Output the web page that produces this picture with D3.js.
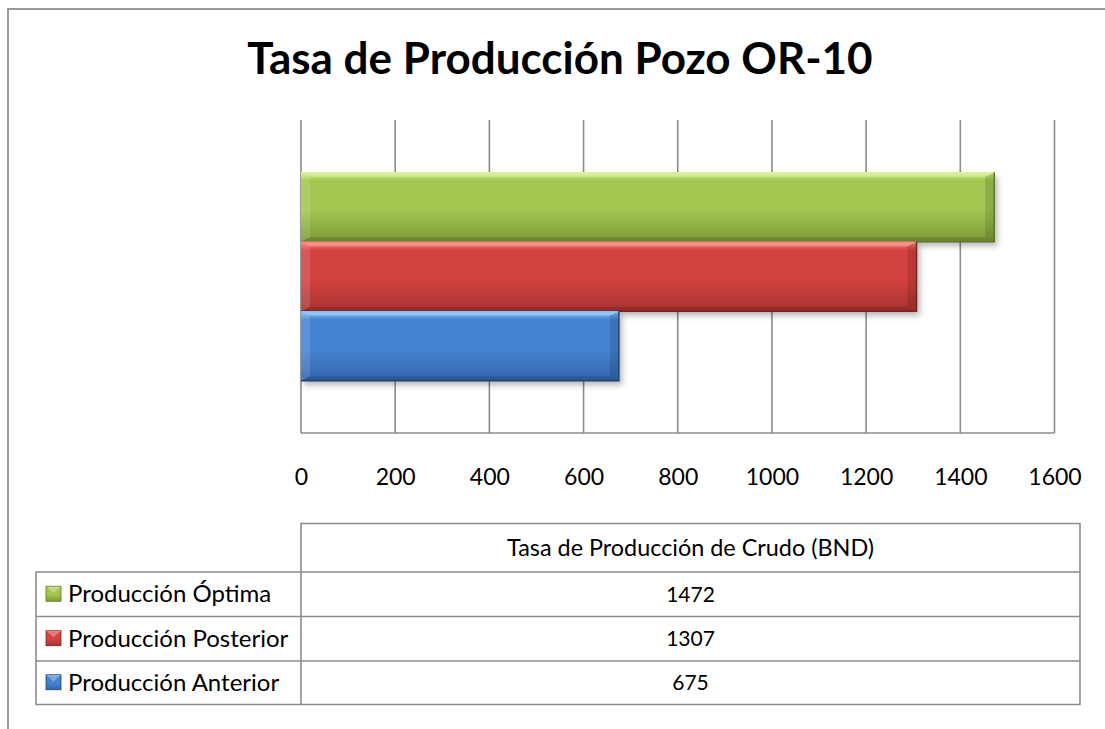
<!DOCTYPE html>
<html>
<head>
<meta charset="utf-8">
<script src="https://cdn.jsdelivr.net/npm/d3@7/dist/d3.min.js"></script>
<style>
  html, body { margin: 0; padding: 0; background: #fff; }
  svg { display: block; }
  text { font-family: Lato, "Open Sans", sans-serif; fill: #000; }
</style>
</head>
<body>
<svg id="chart" width="1105" height="729"></svg>
<script>
// Chart data
const title = "Tasa de Producción Pozo OR-10";
const category = "Tasa de Producción de Crudo (BND)";
const seriesNames = ["Producción Óptima", "Producción Posterior", "Producción Anterior"];
const seriesValues = [1472, 1307, 675];
const tickValues = [0, 200, 400, 600, 800, 1000, 1200, 1400, 1600];
const seriesColors = [
  { top: "#d9f28f", mid: "#a2c64f", bot: "#7c9a38", edge: "#5d7628" },
  { top: "#ff8481", mid: "#d2423f", bot: "#a83331", edge: "#7d2321" },
  { top: "#84c3ff", mid: "#4583d2", bot: "#3265ab", edge: "#1f4578" }
];

const svg = d3.select("#chart");
const defs = svg.append("defs");

// soft drop shadow under the bars
const shadow = defs.append("filter").attr("id", "shadow")
  .attr("x", "-5%").attr("y", "-10%").attr("width", "115%").attr("height", "140%");
shadow.append("feDropShadow").attr("dx", 3).attr("dy", 4).attr("stdDeviation", 3)
  .attr("flood-color", "#000").attr("flood-opacity", 0.3);

seriesColors.forEach((c, i) => {
  const g = defs.append("linearGradient").attr("id", "grad" + i)
    .attr("x1", 0).attr("y1", 0).attr("x2", 0).attr("y2", 1);
  g.append("stop").attr("offset", "0%").attr("stop-color", c.top);
  g.append("stop").attr("offset", "12%").attr("stop-color", c.mid);
  g.append("stop").attr("offset", "55%").attr("stop-color", c.mid);
  g.append("stop").attr("offset", "100%").attr("stop-color", c.bot);
});

// outer frame (extends past the right and bottom edges)
svg.append("rect").attr("x", 8).attr("y", 9).attr("width", 1200).attr("height", 800)
  .attr("fill", "none").attr("stroke", "#9a9a9a").attr("stroke-width", 2);

// title
svg.append("text").attr("x", 560).attr("y", 74).attr("text-anchor", "middle")
  .style("font-size", "44px").style("font-weight", "bold").text(title);

// plot area
const plot = { left: 301, right: 1054.5, top: 120, bottom: 433 };
const x = d3.scaleLinear().domain([0, 1600]).range([plot.left, plot.right]);
const y = d3.scaleBand().domain(seriesNames).range([plot.top, plot.bottom])
  .paddingInner(0).paddingOuter(0.75);

// vertical gridlines and axis
const grid = svg.append("g");
grid.selectAll("line.v").data(tickValues).join("line")
  .attr("x1", d => x(d)).attr("x2", d => x(d))
  .attr("y1", plot.top).attr("y2", plot.bottom)
  .attr("stroke", "#8c8c8c").attr("stroke-width", 1.6);
grid.append("line").attr("x1", plot.left).attr("x2", plot.right)
  .attr("y1", plot.bottom).attr("y2", plot.bottom)
  .attr("stroke", "#8c8c8c").attr("stroke-width", 1.6);

// tick labels via d3 axis
const axis = d3.axisBottom(x).tickValues(tickValues).tickSize(0).tickPadding(0).tickFormat(d3.format("d"));
const axisG = svg.append("g").attr("transform", `translate(0,${plot.bottom + 52})`).call(axis);
axisG.select(".domain").remove();
axisG.selectAll("text").attr("dy", 0).style("font-size", "23px")
  .style("font-family", "Lato, sans-serif").attr("fill", "#000");

// bevelled bars
const bars = svg.append("g");
seriesNames.forEach((name, i) => {
  const x0 = x(0), x1 = x(seriesValues[i]);
  const y0 = y(name), h = y.bandwidth(), y1 = y0 + h;
  const c = seriesColors[i];
  const b = 9;
  const g = bars.append("g");
  g.append("rect").attr("x", x0).attr("y", y0).attr("width", x1 - x0).attr("height", h)
    .attr("fill", `url(#grad${i})`).attr("filter", "url(#shadow)");
  // bevel faces
  const face = (pts, fill, op) => g.append("polygon")
    .attr("points", pts.map(p => p.join(",")).join(" "))
    .attr("fill", fill).attr("opacity", op);
  face([[x0, y0], [x1, y0], [x1 - b, y0 + b * 0.5], [x0 + b, y0 + b * 0.5]], "#fff", 0.25);
  face([[x0, y0], [x0 + b, y0 + b * 0.5], [x0 + b, y1 - b * 0.5], [x0, y1]], "#fff", 0.12);
  face([[x1, y0], [x1, y1], [x1 - b, y1 - b * 0.5], [x1 - b, y0 + b * 0.5]], "#000", 0.12);
  face([[x0, y1], [x0 + b, y1 - b * 0.5], [x1 - b, y1 - b * 0.5], [x1, y1]], "#000", 0.14);
  g.append("rect").attr("x", x0).attr("y", y0).attr("width", x1 - x0).attr("height", 1.5)
    .attr("fill", c.top);
  g.append("path").attr("d", `M${x1},${y0}V${y1}H${x0}`)
    .attr("fill", "none").attr("stroke", c.edge).attr("stroke-width", 1.5);
});

// data table
const table = { left: 36, split: 301, right: 1080, headTop: 523.5, rowTops: [572, 616.5, 661], bottom: 704.5 };
const tg = svg.append("g").attr("stroke", "#8c8c8c").attr("stroke-width", 1.6).attr("fill", "none");
tg.append("path").attr("d",
  `M${table.split},${table.bottom}V${table.headTop}H${table.right}V${table.bottom}H${table.left}V${table.rowTops[0]}H${table.right}`);
table.rowTops.slice(1).forEach(t =>
  tg.append("line").attr("x1", table.left).attr("x2", table.right).attr("y1", t).attr("y2", t));

const midX = (table.split + table.right) / 2;
svg.append("text").attr("x", midX).attr("y", (table.headTop + table.rowTops[0]) / 2 + 8)
  .attr("text-anchor", "middle").style("font-size", "23.4px").text(category);

const rowBounds = table.rowTops.map((t, i) => [t, i < 2 ? table.rowTops[i + 1] : table.bottom]);
seriesNames.forEach((name, i) => {
  const [t, bt] = rowBounds[i];
  const cy = (t + bt) / 2;
  svg.append("text").attr("x", midX).attr("y", cy + 7.5).attr("text-anchor", "middle")
    .style("font-size", "21px").text(seriesValues[i]);
  // legend key
  const c = seriesColors[i];
  const kx = 46, ky = cy - 8, ks = 15;
  svg.append("rect").attr("x", kx).attr("y", ky).attr("width", ks).attr("height", ks)
    .attr("fill", `url(#grad${i})`);
  svg.append("polygon")
    .attr("points", `${kx},${ky} ${kx + ks},${ky} ${kx + ks / 2},${ky + ks * 0.45}`)
    .attr("fill", "#fff").attr("opacity", 0.3);
  svg.append("rect").attr("x", kx).attr("y", ky).attr("width", ks).attr("height", ks)
    .attr("fill", "none").attr("stroke", c.edge).attr("stroke-width", 0.8);
  svg.append("text").attr("x", 68).attr("y", cy + 8).style("font-size", "24px").text(name);
});
</script>
</body>
</html>
